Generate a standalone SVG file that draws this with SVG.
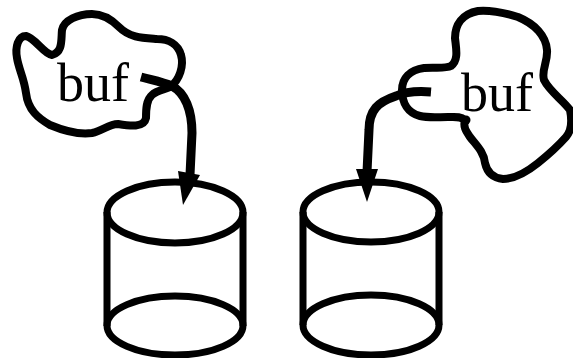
<svg xmlns="http://www.w3.org/2000/svg" width="573" height="358" viewBox="0 0 573 358">
<style>
.s{fill:none;stroke:#000;stroke-width:8;stroke-linejoin:round;stroke-linecap:round}
.c{fill:none;stroke:#000;stroke-width:7}
.a{fill:none;stroke:#000;stroke-width:9}
.t{font-family:"Liberation Serif","Times New Roman",serif;font-size:54px;fill:#000}
</style>
<rect width="573" height="358" fill="#fff"/>
<g id="cloud-left">
<path class="s" d="M170 87C180 80 184 65 181 55C178 44 168 39 157 39C143 38 130 38 119 27C110 18 102 14 92 14C78 14 64 20 62 30C61 40 63 52 52 55C44 54 35 38 26 36C18 36 15 47 17 58C19 70 24 78 26 93C28 110 38 118 50 125C62 130 78 135 92 133C103 131 108 124 118 124C130 126 144 128 146 118C146 110 146 100 152 95C156 91 162 90 170 87Z"/>
<text class="t" x="57" y="101">buf</text>
</g>
<g id="cloud-right">
<path class="s" d="M465 120C460 116 455 117 448 117C438 117 428 118 420 116C408 113 402 103 402 90C402 78 410 70 424 68C434 67 445 69 451 66C459 60 456 48 455 38C455 25 462 14 478 11C490 10 505 13 518 17C535 24 546 36 547 50C548 62 541 70 544 80C550 92 563 100 570 110C572 120 572 130 566 137C558 146 548 155 538 163C528 171 515 179 503 179C492 178 487 172 485 163C484 152 476 145 470 137C466 131 463 127 465 120Z"/>
<circle cx="466" cy="120" r="4.5"/>
<text class="t" x="461" y="111">buf</text>
</g>
<g id="cylinder-left">
<ellipse class="c" cx="175" cy="212.5" rx="68" ry="30.5"/>
<ellipse class="c" cx="175" cy="325.5" rx="68" ry="29.5"/>
<path class="c" d="M107 212V326M243 212V326"/>
</g>
<g id="cylinder-right">
<ellipse class="c" cx="371" cy="212" rx="68" ry="30"/>
<ellipse class="c" cx="371" cy="325" rx="68" ry="30"/>
<path class="c" d="M303 212V325M439 212V325"/>
</g>
<g id="connectors">
<path class="a" d="M141 77C152 80 163 82 172 86C185 93 192 110 192 133L190 175"/>
<polygon points="178,171 200,175 183,205"/>
<path class="a" d="M431 92C418 91 405 92 396 96C378 102 369 110 369 130L367 172"/>
<polygon points="356,169 378,169 367,202"/>
</g>
</svg>
